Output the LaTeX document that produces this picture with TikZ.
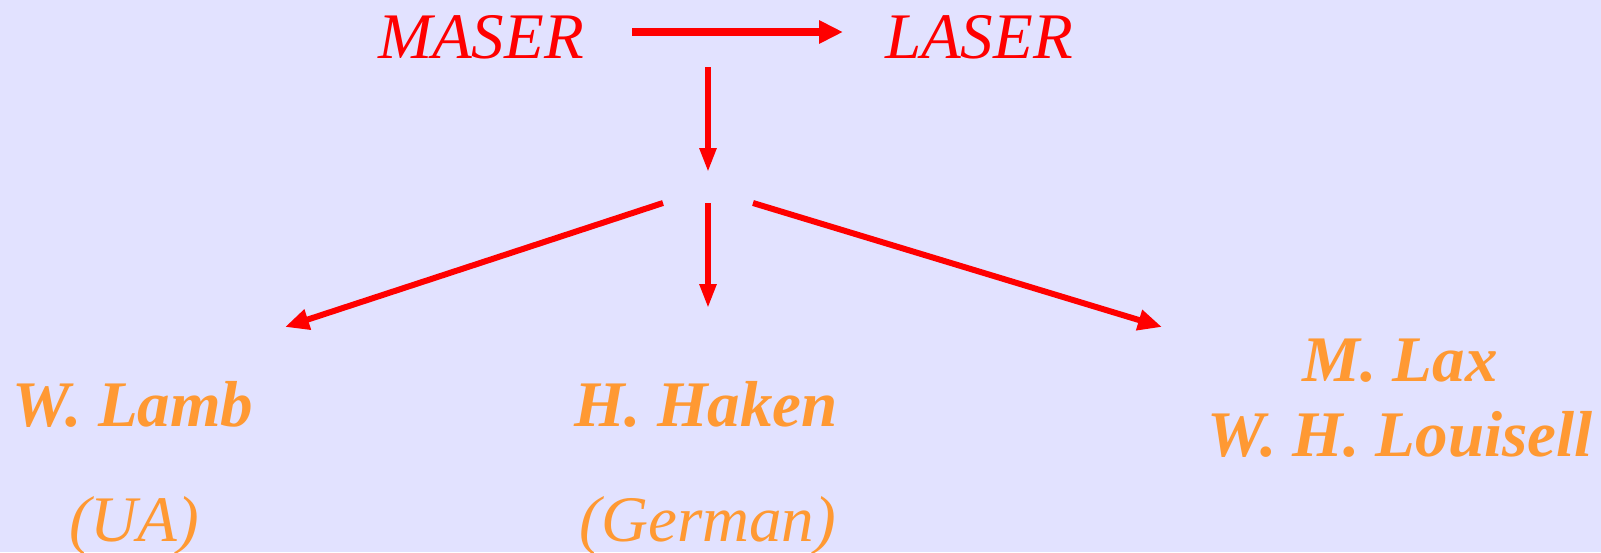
\documentclass[tikz,border=0pt]{standalone}
\usepackage{fontspec}
\setmainfont{Liberation Serif}
\usepackage{xcolor}
\usetikzlibrary{arrows.meta,positioning,calc}
\definecolor{clrBg}{RGB}{226,226,255}
\definecolor{clrR}{RGB}{255,0,0}
\definecolor{clrO}{RGB}{255,153,51}
\tikzset{
  device/.style={font=\fontsize{32.5}{37.5}\selectfont\itshape,text=clrR,
    inner sep=0pt,anchor=base},
  person/.style={font=\fontsize{32.5}{37.5}\selectfont\bfseries\itshape,text=clrO,
    inner sep=0pt,anchor=base,align=center},
  origin/.style={font=\fontsize{32.5}{37.5}\selectfont\itshape,text=clrO,
    inner sep=0pt,anchor=base},
  arrow/.style={-{Triangle[length=12pt,width=11pt]},line width=3.6pt,color=clrR},
  arrowdown/.style={-{Triangle[length=12pt,width=8pt]},line width=2.8pt,color=clrR},
  arrowside/.style={-{Triangle[length=12pt,width=10pt]},line width=3pt,color=clrR}
}
\begin{document}
\begin{tikzpicture}[x=0.5pt,y=-0.5pt]
  \useasboundingbox (0,0) rectangle (1601,552);
  \fill[clrBg] (0,0) rectangle (1601,552);

  \node[device] (maser) at (481,58) {MASER};
  \node[device] (laser) at (979,58) {LASER};

  \node[person] (lamb) at (133,426) {W. Lamb};
  \node[origin] (lambfrom) at (134,541) {(UA)};
  \node[person] (haken) at (706,426) {H. Haken};
  \node[origin] (hakenfrom) at (708,541) {(German)};
  \node[person] (lax) at (1400,456) {M. Lax\\W. H. Louisell};

  \coordinate (fromM) at (632,32);
  \coordinate (toL) at (843,32);
  \coordinate (top) at (708,67);
  \coordinate (mid) at (708,172);
  \coordinate (fork) at (708,203);
  \coordinate (forkL) at (663,203);
  \coordinate (forkR) at (753,203);
  \coordinate (tipL) at (285,327);
  \coordinate (tipH) at (708,308);
  \coordinate (tipR) at (1162,327);

  \draw[arrow] (fromM) -- (toL);
  \draw[arrowdown] (top) -- (mid);
  \draw[arrowdown] (fork) -- (tipH);
  \draw[arrowside] (forkL) -- (tipL);
  \draw[arrowside] (forkR) -- (tipR);
\end{tikzpicture}
\end{document}
